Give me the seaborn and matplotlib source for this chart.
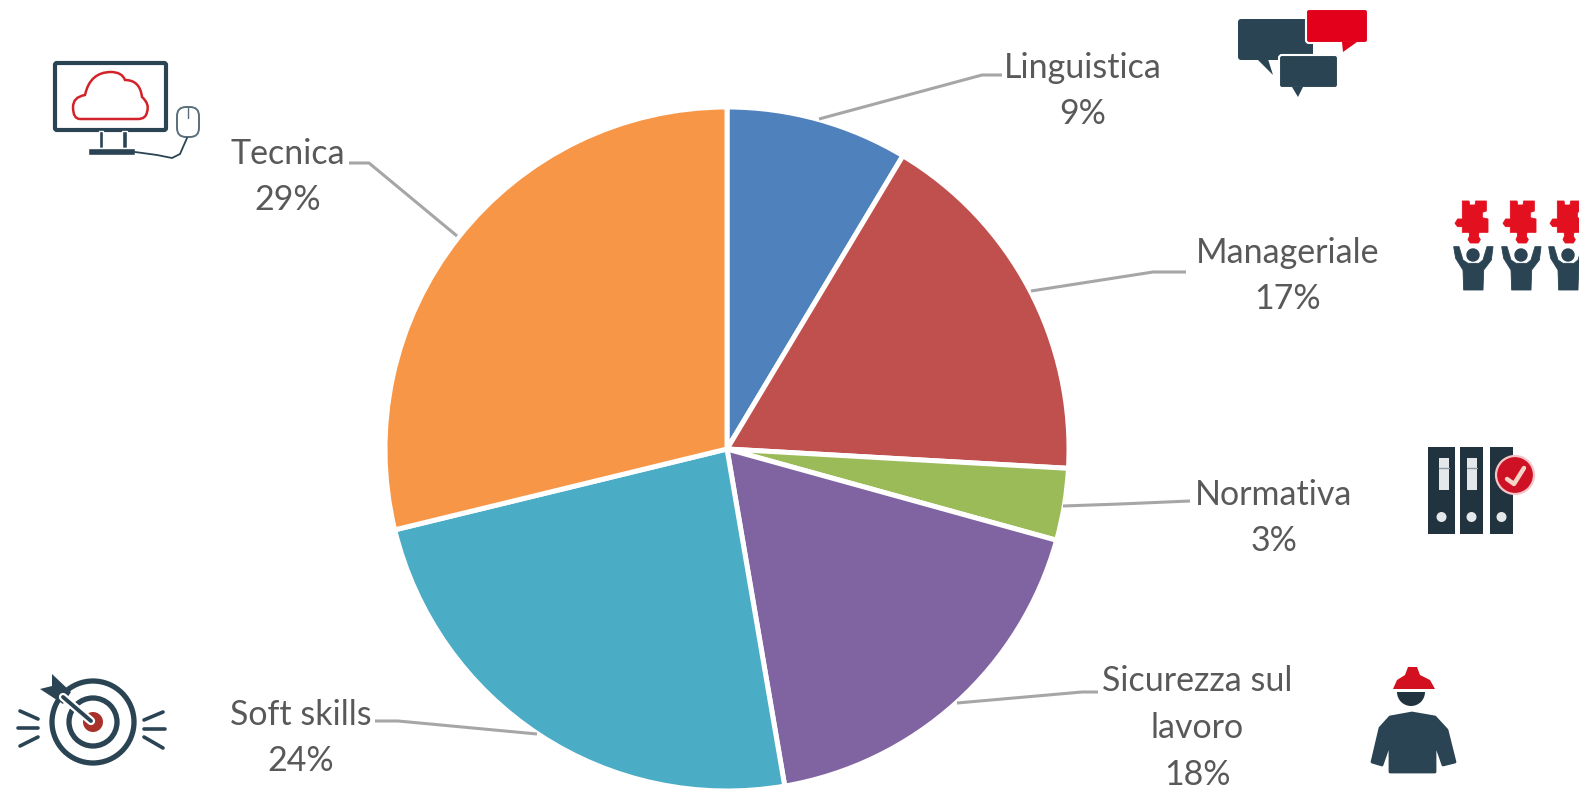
import numpy as np
import matplotlib
matplotlib.use("Agg")
import matplotlib.pyplot as plt
import seaborn as sns
from matplotlib.patches import Circle, FancyBboxPatch, PathPatch, Polygon, Rectangle, Wedge
from matplotlib.path import Path

categories = ["Linguistica", "Manageriale", "Normativa", "Sicurezza sul\nlavoro", "Soft skills", "Tecnica"]
shares = [8.6, 17.3, 3.4, 18.0, 23.9, 28.8]
slice_colors = ["#4f81bd", "#c0504d", "#9bbb59", "#8064a2", "#4bacc6", "#f79646"]

# label centres and leader lines, in reference pixels
label_pos = [(1083, 91), (1288, 276), (1274, 518), (1197, 728), (301, 738), (288, 177)]
leaders = [
    [(819, 119), (982, 75), (1002, 75)],
    [(1031, 291), (1153, 272), (1186, 272)],
    [(1063, 506), (1120, 504), (1190, 501)],
    [(957, 703), (1082, 692), (1098, 692)],
    [(537, 734), (398, 721), (375, 721)],
    [(457, 236), (369, 163), (349, 163)],
]

DARK = "#2a4453"
RED = "#e2001a"
W, H = 1579, 790

sns.set_theme(style="white")
plt.rcParams["font.family"] = ["Lato", "DejaVu Sans"]

fig = plt.figure(figsize=(W / 100, H / 100), dpi=100, facecolor="white")

# pie axes
cx, cy, r = 727, 449, 342
ax = fig.add_axes([(cx - r) / W, 1 - (cy + r) / H, 2 * r / W, 2 * r / H])
ax.pie(
    shares,
    colors=sns.color_palette(slice_colors),
    startangle=90,
    counterclock=False,
    wedgeprops={"edgecolor": "white", "linewidth": 3.6},
)
ax.set_xlim(-1, 1)
ax.set_ylim(-1, 1)
for w in ax.patches:
    w.set_clip_on(False)

# overlay in pixel coordinates for labels and icons
ov = fig.add_axes([0, 0, 1, 1], facecolor="none")
ov.set_xlim(0, W)
ov.set_ylim(H, 0)
ov.axis("off")

for name, share, (lx, ly), pts in zip(categories, shares, label_pos, leaders):
    ov.text(lx, ly, f"{name}\n{share:.0f}%", ha="center", va="center", fontsize=24.5,
            color="#595959", linespacing=1.56)
    xs, ys = zip(*pts)
    ov.plot(xs, ys, color="#a6a6a6", lw=2.2, solid_capstyle="butt")


def bubble(x0, y0, x1, y1, tail, color, edge="none"):
    ov.add_patch(FancyBboxPatch((x0 + 3, y0 + 3), x1 - x0 - 6, y1 - y0 - 6, boxstyle="round,pad=3",
                                fc=color, ec=edge, lw=1.5))
    ov.add_patch(Polygon(tail, fc=color, ec="none"))


# speech bubbles
bubble(1238, 19, 1313, 60, [(1257, 59), (1273, 75), (1268, 59)], DARK)
bubble(1306, 9, 1368, 43, [(1342, 42), (1343, 52), (1357, 42)], RED, "white")
bubble(1279, 55, 1338, 88, [(1292, 87), (1298, 97), (1303, 87)], DARK, "white")

# monitor with cloud and mouse
ov.add_patch(FancyBboxPatch((57, 65), 107, 63, boxstyle="round,pad=2", fc="white", ec=DARK, lw=3))
ov.add_patch(Rectangle((99, 131), 4, 17, fc=DARK))
ov.add_patch(Rectangle((122, 131), 5, 17, fc=DARK))
ov.add_patch(Rectangle((88, 148), 47, 7, fc=DARK))
cloud = [(80, 119), (73, 119), (73, 107), (73, 97), (85, 95), (90, 72), (111, 72), (122, 72), (125, 80),
         (140, 80), (142, 97), (150, 104), (147, 112), (146, 119), (138, 119), (80, 119)]
codes = [Path.MOVETO] + [Path.CURVE3] * 14 + [Path.LINETO]
ov.add_patch(PathPatch(Path(cloud, codes), fc="white", ec="#d2232a", lw=1.8))
ov.add_patch(FancyBboxPatch((180, 110), 16, 24, boxstyle="round,pad=3,rounding_size=9", fc="white", ec="#5a6f7b", lw=1.4))
ov.plot([188, 188], [107, 118], color="#5a6f7b", lw=1)
ov.plot([135, 157, 172, 180, 187], [152, 155, 158, 154, 138], color=DARK, lw=1.3)

# target
tx, ty = 93, 722
ov.add_patch(Circle((tx, ty), 41, fc="none", ec=DARK, lw=3.8))
ov.add_patch(Circle((tx, ty), 24, fc="none", ec=DARK, lw=3.8))
ov.add_patch(Circle((tx, ty), 10, fc="#a8322a", ec="none"))
ov.plot([63, 91], [697, 721], color="white", lw=6)
ov.plot([63, 91], [697, 721], color=DARK, lw=2.8)
ov.add_patch(Polygon([(52, 674), (71, 692), (63, 704), (40, 689), (52, 686)], fc=DARK, ec="none"))
for x0, y0, x1, y1 in [(20, 711, 38, 719), (18, 728, 38, 728), (20, 746, 38, 737),
                       (144, 720, 163, 712), (144, 729, 165, 729), (144, 737, 163, 748)]:
    ov.plot([x0, x1], [y0, y1], color=DARK, lw=2.6, solid_capstyle="round")

# binders
for x0, x1 in [(1428, 1455), (1460, 1483), (1490, 1513)]:
    ov.add_patch(Rectangle((x0, 447), x1 - x0, 87, fc="#20333e", ec="none"))
    ov.add_patch(Circle(((x0 + x1) / 2, 517), 5, fc="#e4e8ea", ec="none"))
for x0 in [1439, 1467]:
    ov.add_patch(Rectangle((x0, 458), 10, 32, fc="#e4e8ea", ec="none"))
    ov.plot([x0, x0 + 10], [468, 468], color="#8c9aa3", lw=1)
ov.add_patch(Circle((1515, 475), 19, fc="#cf1126", ec="#f4c6c9", lw=1.6))
ov.plot([1507, 1514, 1524], [479, 484, 468], color="#f6d5c8", lw=3.2)

# worker
ov.add_patch(Wedge((1411, 692), 14, 0, 180, fc="#20333e", ec="none"))
ov.add_patch(Polygon([(1393, 689), (1397, 680), (1405, 675), (1408, 667), (1417, 667), (1420, 675),
                      (1430, 680), (1435, 689)], fc="#d3101f", ec="none"))
ov.add_patch(Polygon([(1412, 713), (1390, 717), (1380, 728), (1372, 762), (1382, 765), (1390, 742),
                      (1390, 772), (1435, 772), (1435, 742), (1443, 765), (1455, 762), (1447, 730),
                      (1435, 717)], fc=DARK, ec=DARK, lw=2, joinstyle="round"))

# puzzle people, the last one runs off the edge
piece = [(38, 18), (58, 18), (60, 30), (76, 30), (78, 18), (110, 18), (110, 48), (98, 52), (98, 68),
         (115, 72), (115, 112), (88, 112), (86, 124), (92, 134), (86, 144), (62, 144), (55, 134),
         (60, 122), (58, 112), (38, 112), (38, 95), (24, 95), (16, 85), (24, 72), (38, 72)]
body = [(12, 155), (28, 155), (40, 195), (55, 205), (88, 205), (100, 195), (112, 155), (130, 155),
        (125, 195), (102, 225), (100, 285), (42, 285), (40, 225), (18, 190)]
for px in [1473, 1521, 1568]:
    place = lambda pts: [(px + (a - 70) / 3, 195 + b / 3) for a, b in pts]
    ov.add_patch(Polygon(place(piece), fc="#e3101f", ec="#e3101f", lw=0.6, joinstyle="round"))
    ov.add_patch(Polygon(place(body), fc=DARK, ec=DARK, lw=0.6, joinstyle="round"))
    ov.add_patch(Circle((px, 255), 6.7, fc=DARK, ec="none"))

fig.savefig("out.png", dpi=100, facecolor="white")
